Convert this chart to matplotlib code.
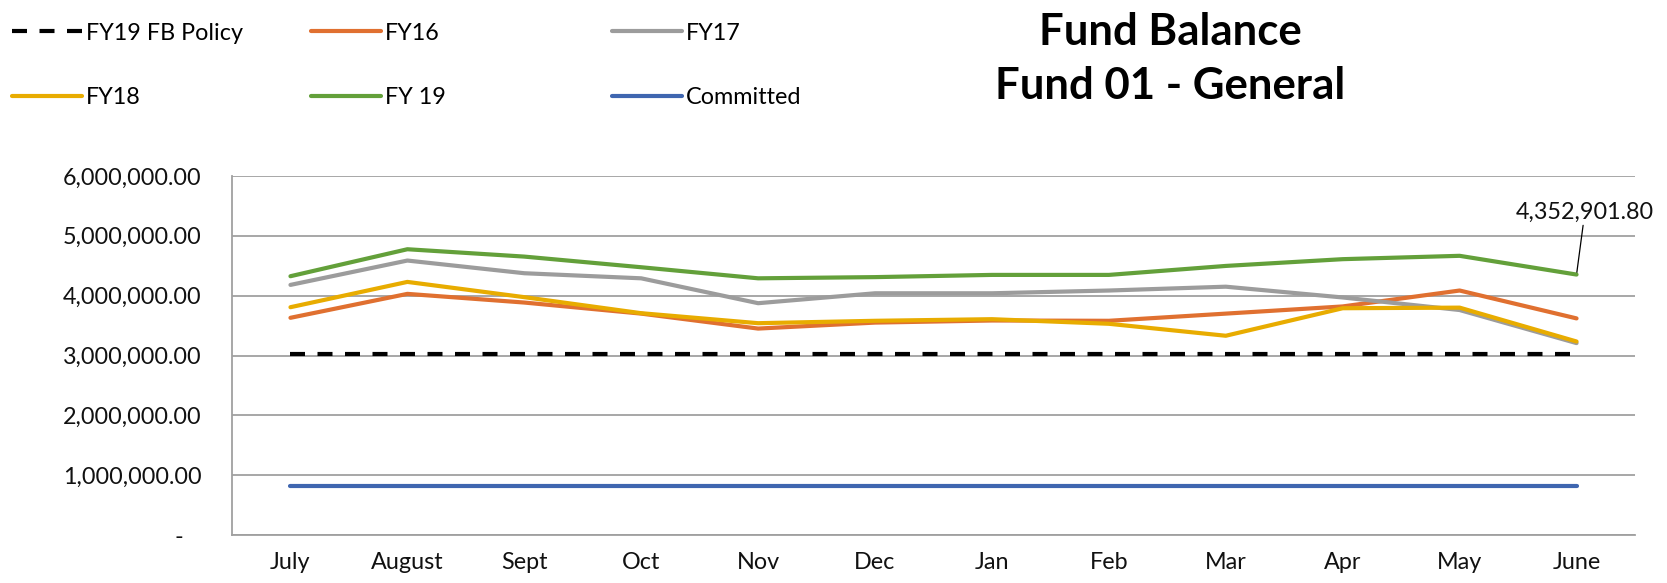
import matplotlib
matplotlib.use("Agg")
import matplotlib.pyplot as plt
from matplotlib.ticker import FuncFormatter

months = ['July', 'August', 'Sept', 'Oct', 'Nov', 'Dec', 'Jan', 'Feb', 'Mar', 'Apr', 'May', 'June']
fb_policy = [3020000] * 12
fy16 = [3630000, 4030000, 3885000, 3700000, 3450000, 3550000, 3585000, 3580000, 3700000, 3820000, 4086000, 3620000]
fy17 = [4180000, 4587000, 4375000, 4290000, 3874000, 4040000, 4040000, 4086000, 4150000, 3970000, 3760000, 3207000]
fy18 = [3807000, 4230000, 3975000, 3707000, 3540000, 3580000, 3607000, 3530000, 3330000, 3790000, 3800000, 3234000]
fy19 = [4325000, 4776000, 4653000, 4475000, 4290000, 4310000, 4347000, 4347000, 4497000, 4610000, 4666000, 4352901.80]
committed = [820000] * 12
yticks = [0, 1000000, 2000000, 3000000, 4000000, 5000000, 6000000]

FONT = 'Lato'
FS = 16.8
W, H = 1667, 583

fig = plt.figure(figsize=(W / 100, H / 100), dpi=100)
ax = fig.add_axes([232 / W, 1 - 535 / H, (1635 - 232) / W, (535 - 176) / H])

x = list(range(len(months)))
series = [
    ('FY19 FB Policy', fb_policy, 'black', (0, (3.6, 3.0))),
    ('FY16', fy16, '#E07030', '-'),
    ('FY17', fy17, '#9C9C9C', '-'),
    ('FY18', fy18, '#E8AC00', '-'),
    ('FY 19', fy19, '#63A03A', '-'),
    ('Committed', committed, '#3F66B0', '-'),
]
handles = []
for i, (name, vals, col, ls) in enumerate(series):
    ln, = ax.plot(x, vals, color=col, lw=3, ls=ls, label=name, zorder=3 + i,
                  solid_capstyle='round', solid_joinstyle='round',
                  dash_capstyle='butt')
    handles.append(ln)

ax.set_xlim(-0.5, len(months) - 0.5)
ax.set_ylim(0, 6000000)
ax.set_yticks(yticks)
ax.yaxis.set_major_formatter(FuncFormatter(lambda v, p: '-   ' if v == 0 else f'{v:,.2f}'))
ax.set_xticks(x)
ax.set_xticklabels(months)
ax.grid(axis='y', color='#A0A0A0', lw=1.3, zorder=0)
for s in ['top', 'right']:
    ax.spines[s].set_visible(False)
for s in ['left', 'bottom']:
    ax.spines[s].set_color('#A0A0A0')
    ax.spines[s].set_linewidth(1.3)
ax.tick_params(axis='both', length=0, labelsize=FS)
ax.tick_params(axis='y', pad=22)
ax.tick_params(axis='x', pad=12)
for lab in ax.get_xticklabels() + ax.get_yticklabels():
    lab.set_fontfamily(FONT)
    lab.set_color('#111111')

# data label
ax.annotate(f'{fy19[-1]:,.2f}', xy=(x[-1], fy19[-1]), xytext=(6, 45),
            textcoords='offset points', ha='center', va='center',
            fontsize=FS, fontfamily=FONT, color='#111111',
            arrowprops=dict(arrowstyle='-', color='black', lw=0.9, shrinkA=0, shrinkB=0))

# legend: 3 columns x 2 rows
col_x = [12, 311, 612]
row_y = [33, 98]
for i, h in enumerate(handles):
    r, c = divmod(i, 3)
    fig.legend([h], [h.get_label()], loc='center left',
               bbox_to_anchor=(col_x[c] / W, 1 - row_y[r] / H),
               frameon=False, borderpad=0, borderaxespad=0,
               handlelength=3.0, handletextpad=0.15,
               prop={'family': FONT, 'size': FS})

# title
fig.text(1170 / W, 1 - 32 / H, 'Fund Balance', ha='center', va='center',
         fontsize=31.5, fontweight='bold', fontfamily=FONT)
fig.text(1170 / W, 1 - 86 / H, 'Fund 01 - General', ha='center', va='center',
         fontsize=31.5, fontweight='bold', fontfamily=FONT)

fig.savefig('out.png', dpi=100)
